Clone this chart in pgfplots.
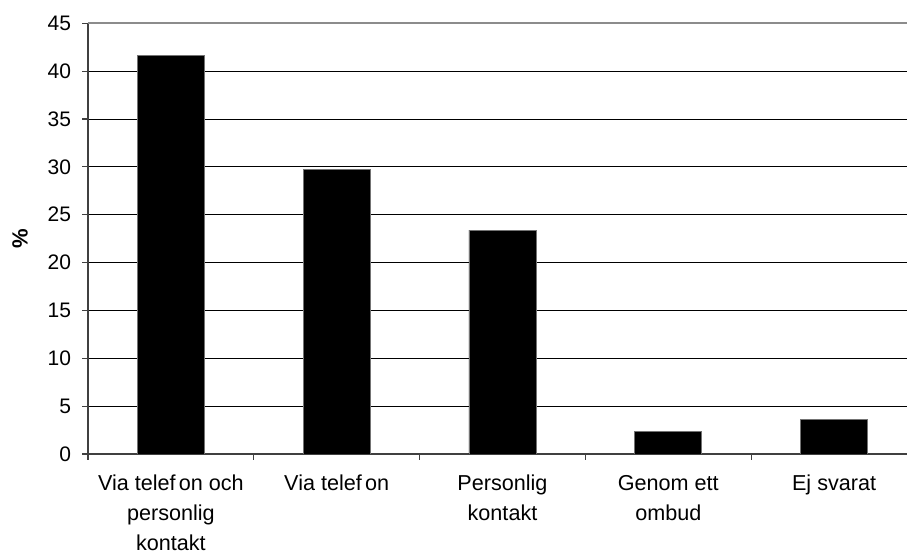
\documentclass[border=0pt]{standalone}
\usepackage{pgfplots}
\pgfplotsset{compat=1.18}
\usepackage{fontspec}
\setmainfont{Liberation Sans}
\begin{document}
\begin{tikzpicture}
\path[use as bounding box] (0,0) rectangle (453.5pt,276pt);
\begin{axis}[
  at={(44pt,49pt)}, anchor=south west,
  scale only axis, width=414.5pt, height=215.35pt,
  xmin=0.5, xmax=5.5, ymin=0, ymax=45,
  ybar, bar width=33.5pt,
  axis x line=bottom, axis y line=left,
  axis line style={-, draw=black!75, line width=0.6pt},
  tick align=outside, major tick length=3pt,
  tick style={draw=black!75, line width=0.6pt},
  xtick={0.5,1.5,2.5,3.5,4.5,5.5},
  x tick label as interval,
  xticklabels={{\strut Via telef\kern0.15em on och\\personlig\\kontakt},{\strut Via telef\kern0.15em on},{\strut Personlig\\kontakt},{\strut Genom ett\\ombud},{\strut Ej svarat}},
  x tick label style={align=center, font={\fontsize{10.8}{14.8}\selectfont}, yshift=-1.6pt},
  ytick={0,5,...,40},
  extra y ticks={45},
  extra y tick style={grid style={draw=black!45, line width=1.1pt}},
  ymajorgrids, grid style={draw=black, line width=0.5pt},
  y tick label style={font=\fontsize{10.5}{12}\selectfont, xshift=-2pt},
  /pgf/number format/assume math mode=true,
  ylabel={\textbf{\%}},
  ylabel style={at={(axis description cs:-0.082,0.5)}, anchor=center, font=\fontsize{11}{12}\selectfont},
]
\addplot[fill=black, draw=black!55, line width=0.4pt] coordinates {(1,41.6) (2,29.7) (3,23.4) (4,2.35) (5,3.6)};
\end{axis}
\end{tikzpicture}
\end{document}
